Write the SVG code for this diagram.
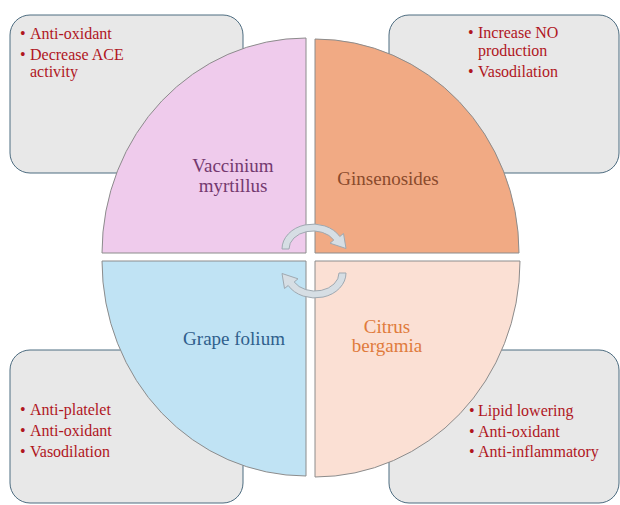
<svg xmlns="http://www.w3.org/2000/svg" width="620" height="505" viewBox="0 0 620 505">
<style>
.box{fill:#e8e8e8;stroke:#4d6c80;stroke-width:1}
.q{stroke:#8c8c8c;stroke-width:1}
text{font-family:"Liberation Serif","Times New Roman",Times,serif}
.bt{font-size:16px;fill:#b0161e}
.lbl{font-size:19px;text-anchor:middle}
.arr{fill:#d6dee4;stroke:#9fa9b1;stroke-width:1}
</style>
<rect width="620" height="505" fill="#ffffff"/>
<g id="box-tl"><rect class="box" x="10" y="15" width="233" height="158" rx="20"/>
<text class="bt" font-family="Liberation Serif"><tspan x="20" y="39">•</tspan><tspan x="30" y="39">Anti-oxidant</tspan><tspan x="20" y="60">•</tspan><tspan x="30" y="60">Decrease ACE</tspan><tspan x="30" y="77">activity</tspan></text></g>
<g id="box-tr"><rect class="box" x="389" y="15" width="230" height="158" rx="20"/>
<text class="bt" font-family="Liberation Serif"><tspan x="468" y="38">•</tspan><tspan x="478" y="38">Increase NO</tspan><tspan x="478" y="56">production</tspan><tspan x="468" y="77">•</tspan><tspan x="478" y="77">Vasodilation</tspan></text></g>
<g id="box-bl"><rect class="box" x="10" y="350" width="233" height="153" rx="20"/>
<text class="bt" font-family="Liberation Serif"><tspan x="20" y="415">•</tspan><tspan x="30" y="415">Anti-platelet</tspan><tspan x="20" y="436">•</tspan><tspan x="30" y="436">Anti-oxidant</tspan><tspan x="20" y="457">•</tspan><tspan x="30" y="457">Vasodilation</tspan></text></g>
<g id="box-br"><rect class="box" x="389" y="350" width="230" height="153" rx="20"/>
<text class="bt" font-family="Liberation Serif"><tspan x="469" y="416">•</tspan><tspan x="478" y="416">Lipid lowering</tspan><tspan x="469" y="437">•</tspan><tspan x="478" y="437">Anti-oxidant</tspan><tspan x="469" y="457">•</tspan><tspan x="478" y="457">Anti-inflammatory</tspan></text></g>
<g id="q-vaccinium"><path class="q" fill="#efcbec" d="M306,253 L102,253 A204,215 0 0 1 306,38 Z"/>
<text class="lbl" fill="#74396f" font-family="Liberation Serif"><tspan x="233" y="172">Vaccinium</tspan><tspan x="233" y="192">myrtillus</tspan></text></g>
<g id="q-ginsenosides"><path class="q" fill="#f1aa84" d="M315,253 L315,39 A204,214 0 0 1 519,253 Z"/>
<text class="lbl" fill="#8a4a2c" font-family="Liberation Serif" x="388" y="185">Ginsenosides</text></g>
<g id="q-grape"><path class="q" fill="#c0e3f4" d="M306,261 L306,476 A204,215 0 0 1 102,261 Z"/>
<text class="lbl" fill="#2f5f8c" font-family="Liberation Serif" x="234" y="345">Grape folium</text></g>
<g id="q-citrus"><path class="q" fill="#fbe0d4" d="M315,261 L520,261 A205,216 0 0 1 315,477 Z"/>
<text class="lbl" fill="#e07b3c" font-family="Liberation Serif"><tspan x="387" y="333">Citrus</tspan><tspan x="387" y="352">bergamia</tspan></text></g>
<g id="connectors">
<path class="arr" d="M282,249 A31,25 0 0 1 339.8,236.5 L343.5,233.5 L346,248.5 L330,243.2 L333.8,240 A24,18 0 0 0 289,249 Z"/>
<path class="arr" transform="rotate(180 314 261)" d="M282,249 A31,25 0 0 1 339.8,236.5 L343.5,233.5 L346,248.5 L330,243.2 L333.8,240 A24,18 0 0 0 289,249 Z"/>
</g>
</svg>
